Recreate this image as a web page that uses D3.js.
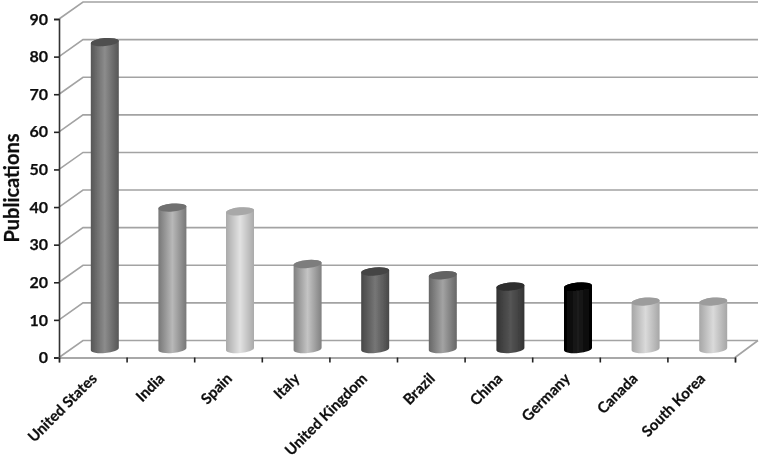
<!doctype html>
<html>
	<head>
		<script src="https://cdn.jsdelivr.net/npm/d3@7"></script>
		<style>
			html, body { margin: 0; background: #fff; }
			text { font-family: Lato, "Open Sans", sans-serif; font-weight: 700; fill: #111; stroke: #111; stroke-width: 0.25px; }
		</style>
	</head>
	<body>
		<div id="chart"></div>
		<script>
            const categories = ["United States", "India", "Spain", "Italy", "United Kingdom", "Brazil", "China", "Germany", "Canada", "South Korea"];
            const publications = [82, 38, 37, 23, 21, 20, 17, 17, 13, 13];
            const yTicks = [0, 10, 20, 30, 40, 50, 60, 70, 80, 90];
            // edge, centre and cap greys of each cylinder
            const edgeGreys = ["#555555", "#777777", "#aaaaaa", "#808080", "#474747", "#666666", "#333333", "#000000", "#a6a6a6", "#a6a6a6"];
            const midGreys = ["#8c8c8c", "#b8b8b8", "#e2e2e2", "#c4c4c4", "#767676", "#a3a3a3", "#555555", "#1c1c1c", "#dadada", "#dadada"];
            const capGreys = ["#4f4f4f", "#707070", "#a8a8a8", "#7d7d7d", "#444444", "#626262", "#2e2e2e", "#000000", "#9c9c9c", "#9c9c9c"];

            const width = 761, height = 460;
            const plotLeft = 59, plotRight = 735, plotBottom = 357.5, plotTop = 19;
            const depthX = 24, depthY = 17;
            const barWidth = 28, capRy = 4, tilt = -5;
            const baseShift = depthY / 2, capShift = 7;

            const x = d3.scaleBand().domain(categories).range([plotLeft, plotRight]);
            const y = d3.scaleLinear().domain([0, 90]).range([plotBottom, plotTop]);
            // the x axis only has ticks between the categories
            const xEdges = d3.scaleLinear().domain([0, categories.length]).range([plotLeft, plotRight]);

            const svg = d3.select("#chart")
                .append("svg")
                .attr("width", width)
                .attr("height", height)
                .style("display", "block");

            const defs = svg.append("defs");
            defs.append("filter").attr("id", "soft")
                .append("feGaussianBlur").attr("stdDeviation", 0.35);

            const chart = svg.append("g").attr("filter", "url(#soft)");

            // back wall lines and the slanted bits on the left wall
            chart.selectAll("path.grid")
                .data(yTicks)
                .enter().append("path")
                .attr("class", "grid")
                .attr("fill", "none")
                .attr("stroke", "#a3a3a3")
                .attr("stroke-width", 1.6)
                .attr("d", function (d) {
                    return "M" + plotLeft + "," + y(d) + "L" + (plotLeft + depthX) + "," + (y(d) - depthY) + "H" + (plotRight + depthX - 1);
                });

            // floor edge on the right
            chart.append("line")
                .attr("x1", plotRight).attr("y1", plotBottom)
                .attr("x2", plotRight + depthX - 1).attr("y2", plotBottom - depthY)
                .attr("stroke", "#a3a3a3")
                .attr("stroke-width", 1.6);

            const gradients = defs.selectAll("linearGradient")
                .data(categories)
                .enter().append("linearGradient")
                .attr("id", function (d, i) { return "bar" + i; });
            gradients.append("stop").attr("offset", "0%").attr("stop-color", function (d, i) { return edgeGreys[i]; });
            gradients.append("stop").attr("offset", "50%").attr("stop-color", function (d, i) { return midGreys[i]; });
            gradients.append("stop").attr("offset", "100%").attr("stop-color", function (d, i) { return edgeGreys[i]; });

            function barX(d) {
                return x(d) + x.bandwidth() / 2 + depthX / 2;
            }

            const bars = chart.selectAll("g.bar")
                .data(categories)
                .enter().append("g")
                .attr("class", "bar");

            bars.append("path")
                .attr("fill", function (d, i) { return "url(#bar" + i + ")"; })
                .attr("d", function (d, i) {
                    const cx = barX(d), r = barWidth / 2;
                    const y0 = y(0) - baseShift, y1 = y(publications[i]) - capShift;
                    const rise = r * Math.tan(-tilt * Math.PI / 180);
                    return "M" + (cx - r) + "," + (y1 + rise)
                        + "L" + (cx - r) + "," + (y0 + rise)
                        + "A" + r + "," + capRy + " " + tilt + " 0 0 " + (cx + r) + "," + (y0 - rise)
                        + "L" + (cx + r) + "," + (y1 - rise)
                        + "A" + r + "," + capRy + " " + tilt + " 0 0 " + (cx - r) + "," + (y1 + rise) + "Z";
                });

            bars.append("ellipse")
                .attr("fill", function (d, i) { return capGreys[i]; })
                .attr("rx", barWidth / 2)
                .attr("ry", capRy)
                .attr("transform", function (d, i) {
                    return "translate(" + barX(d) + "," + (y(publications[i]) - capShift) + ") rotate(" + tilt + ")";
                });

            // axes
            const yAxis = chart.append("g")
                .attr("transform", "translate(" + plotLeft + ",0)")
                .call(d3.axisLeft(y).tickValues(yTicks).tickSize(5).tickPadding(6));
            const xAxis = chart.append("g")
                .attr("transform", "translate(0," + plotBottom + ")")
                .call(d3.axisBottom(xEdges).tickValues(d3.range(categories.length + 1)).tickSize(5).tickFormat(""));

            yAxis.selectAll("path").attr("stroke", "#333").attr("stroke-width", 1.6);
            yAxis.selectAll("line").attr("stroke", "#222").attr("stroke-width", 1.6);
            yAxis.selectAll("text").style("font-size", "16px").attr("fill", "#111");
            xAxis.selectAll("path").attr("stroke", "#8c8c8c").attr("stroke-width", 1.6);
            xAxis.selectAll("line").attr("stroke", "#222").attr("stroke-width", 1.6);

            // rotated category labels, anchored at their upper right end
            chart.selectAll("text.category")
                .data(categories)
                .enter().append("text")
                .attr("class", "category")
                .attr("text-anchor", "end")
                .style("font-size", "15px")
                .attr("transform", function (d) {
                    return "translate(" + (x(d) + x.bandwidth() / 2 + 5) + "," + (plotBottom + 22) + ") rotate(-45)";
                })
                .text(function (d) { return d; });

            chart.append("text")
                .attr("text-anchor", "middle")
                .style("font-size", "20px")
                .attr("transform", "translate(19,188) rotate(-90)")
                .text("Publications");
		</script>
	</body>
</html>
